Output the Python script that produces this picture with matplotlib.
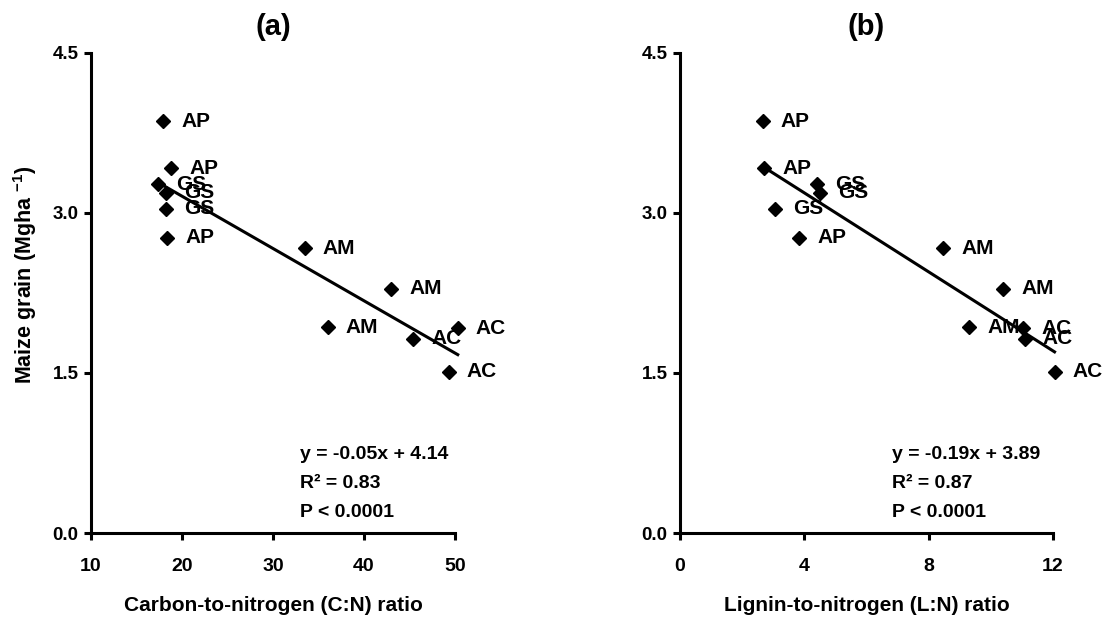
import numpy as np
import matplotlib
matplotlib.use("Agg")
import matplotlib.pyplot as plt

plt.rcParams['font.family'] = ['Liberation Sans', 'DejaVu Sans']
plt.rcParams['font.weight'] = 'bold'
plt.rcParams['mathtext.fontset'] = 'custom'
plt.rcParams['mathtext.rm'] = 'Liberation Sans:bold'
plt.rcParams['mathtext.default'] = 'rm'

# data
labels = ['AP', 'AP', 'GS', 'GS', 'GS', 'AP', 'AM', 'AM', 'AM', 'AC', 'AC', 'AC']
grain = [3.86, 3.42, 3.27, 3.19, 3.04, 2.77, 2.67, 2.29, 1.93, 1.92, 1.82, 1.51]
cn_ratio = [17.9, 18.8, 17.4, 18.2, 18.2, 18.4, 33.5, 43.0, 36.0, 50.3, 45.4, 49.3]
ln_ratio = [2.66, 2.71, 4.40, 4.49, 3.06, 3.83, 8.46, 10.39, 9.30, 11.05, 11.09, 12.05]

stats_a = ['y = -0.05x + 4.14', 'R² = 0.83', 'P < 0.0001']
stats_b = ['y = -0.19x + 3.89', 'R² = 0.87', 'P < 0.0001']

fig = plt.figure(figsize=(11.09, 6.21), dpi=100)
ax1 = fig.add_axes([0.0821, 0.1417, 0.3282, 0.773])
ax2 = fig.add_axes([0.6132, 0.1417, 0.3363, 0.773])


def panel(ax, x, y, xticks, title, xlabel, stats, stats_x):
    x = np.array(x)
    y = np.array(y)
    ax.plot(x, y, 'D', color='black', ms=7, clip_on=False, zorder=3)
    for xi, yi, lab in zip(x, y, labels):
        ax.annotate(lab, (xi, yi), xytext=(13, 0), textcoords='offset points',
                    va='center', ha='left', fontsize=15, fontweight='bold',
                    annotation_clip=False)
    # linear fit line over the data range
    k, b = np.polyfit(x, y, 1)
    xs = np.array([x.min(), x.max()])
    ax.plot(xs, k * xs + b, color='black', lw=2.2, clip_on=False)

    ax.set_xlim(xticks[0], xticks[-1])
    ax.set_ylim(0, 4.5)
    ax.set_xticks(xticks)
    ax.set_yticks([0, 1.5, 3.0, 4.5])
    ax.set_yticklabels(['0.0', '1.5', '3.0', '4.5'])
    for s in ['top', 'right']:
        ax.spines[s].set_visible(False)
    for s in ['left', 'bottom']:
        ax.spines[s].set_linewidth(2.2)
    ax.tick_params(axis='both', length=5, width=2.2, direction='out')
    ax.tick_params(axis='x', labelsize=14, pad=13)
    ax.tick_params(axis='y', labelsize=13.5, pad=4)
    for t in ax.get_xticklabels() + ax.get_yticklabels():
        t.set_fontweight('bold')

    ax.text(0.5, 1.054, title, transform=ax.transAxes, ha='center', va='center',
            fontsize=21, fontweight='bold')
    ax.text(0.5, -0.15, xlabel, transform=ax.transAxes, ha='center', va='center',
            fontsize=15, fontweight='bold')
    for i, line in enumerate(stats):
        ax.text(stats_x, 0.1625 - i * 0.06, line, transform=ax.transAxes,
                ha='left', va='center', fontsize=14, fontweight='bold')


panel(ax1, cn_ratio, grain, [10, 20, 30, 40, 50], '(a)',
      'Carbon-to-nitrogen (C:N) ratio', stats_a, 0.574)
panel(ax2, ln_ratio, grain, [0, 4, 8, 12], '(b)',
      'Lignin-to-nitrogen (L:N) ratio', stats_b, 0.568)

ax1.text(-0.18, 0.5375, r'Maize grain (Mgha $^{-1}$)', transform=ax1.transAxes,
         rotation=90, ha='center', va='center', fontsize=15.5, fontweight='bold')

fig.savefig('out.png', dpi=100)
